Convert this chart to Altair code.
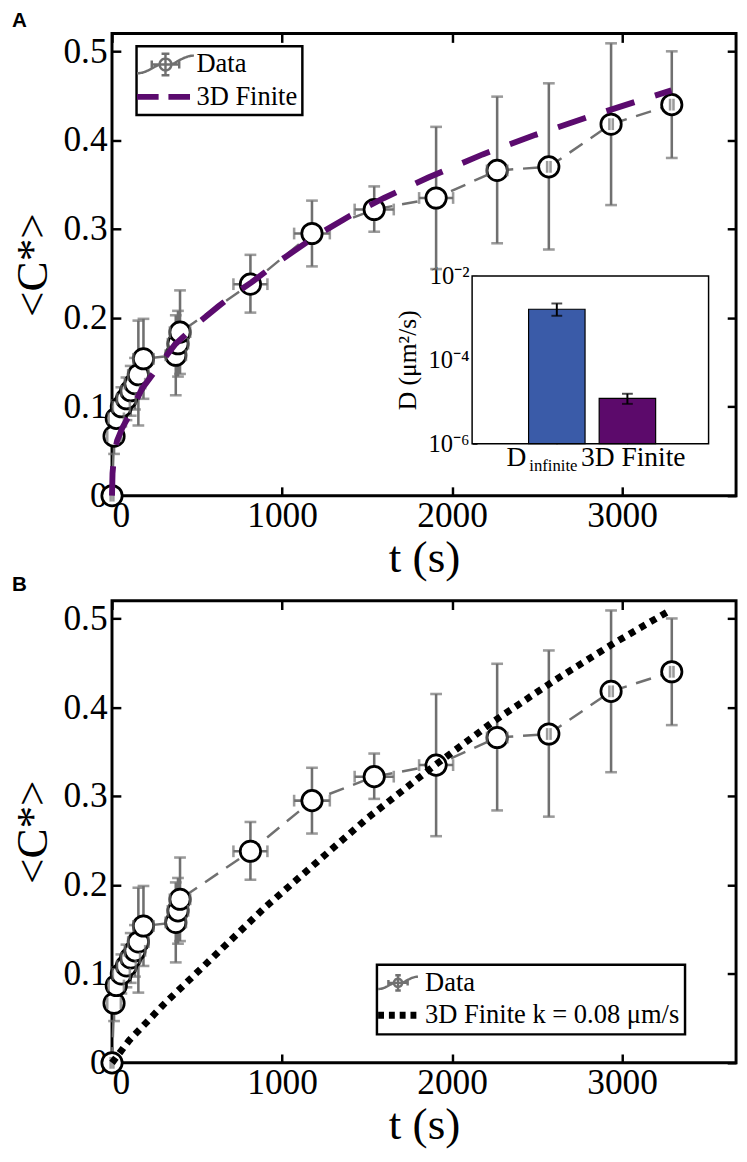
import altair as alt
import pandas as pd

# ---------------- data ----------------
t_data = [0, 12, 25, 55, 85, 110, 135, 155, 185, 375, 388, 400, 814, 1176, 1542, 1906, 2265, 2569, 2935, 3292]
c_data = [0.000, 0.067, 0.087, 0.100, 0.109, 0.118, 0.126, 0.136, 0.154, 0.158, 0.171, 0.184,
          0.238, 0.295, 0.322, 0.335, 0.366, 0.370, 0.418, 0.440]
c_lo = [-0.004, 0.047, 0.067, 0.078, 0.085, 0.090, 0.097, 0.079, 0.109, 0.113, 0.134, 0.137,
        0.206, 0.258, 0.297, 0.255, 0.284, 0.277, 0.327, 0.380]
c_hi = [0.004, 0.087, 0.107, 0.122, 0.133, 0.146, 0.155, 0.197, 0.199, 0.203, 0.208, 0.231,
        0.271, 0.332, 0.348, 0.415, 0.449, 0.464, 0.509, 0.500]
t_err = [8, 40, 45, 50, 55, 55, 60, 60, 60, 60, 60, 60, 100, 105, 115, 100, 60, 10, 10, 10]

fitA_t = [0, 3, 12, 30, 60, 105, 175, 275, 370, 510, 625, 720, 820, 1000, 1205, 1400, 1600,
          1860, 2180, 2490, 2815, 3140, 3290]
fitA_c = [0.0, 0.025, 0.045, 0.062, 0.076, 0.092, 0.120, 0.146, 0.170, 0.195, 0.213, 0.227,
          0.240, 0.266, 0.293, 0.315, 0.335, 0.358, 0.384, 0.406, 0.427, 0.447, 0.456]

fitB_t = [0, 100, 300, 600, 900, 1200, 1500, 1900, 2250, 2600, 2950, 3290]
fitB_c = [0.0, 0.025, 0.065, 0.120, 0.175, 0.225, 0.275, 0.335, 0.385, 0.430, 0.472, 0.510]

inset_names = ["D_infinite", "3D Finite"]
inset_pos = [1, 2]
inset_D = [1.6e-3, 1.2e-5]
inset_lo = [1.12e-3, 8.9e-6]
inset_hi = [2.2e-3, 1.55e-5]
inset_main_label = ["D", "3D Finite"]
inset_sub_label = ["infinite", ""]
inset_colors = ["#3a5ba8", "#5c0a6b"]
inset_xlim = [-0.2, 3.15]
inset_ylim = [1e-6, 1e-2]

x_ticks = [0, 1000, 2000, 3000]
y_ticks = [0, 0.1, 0.2, 0.3, 0.4, 0.5]
inset_decades = [1e-6, 1e-5, 1e-4, 1e-3, 1e-2]
x_lim = [0, 3670]
y_lim = [0, 0.52]

legendA = ["Data", "3D Finite"]
legendB = ["Data", "3D Finite k = 0.08 μm/s"]

# ---------------- styling ----------------
W, H = 636, 471
TK = 9           # inward tick length
FONT = "Liberation Serif"
GRAY = "#707070"
PURPLE = "#5b0b6e"
DATA_PATH = ("M-2.9,0.9C-2,0.9,-1.3,0.3,-0.6,0 M0.6,0C1.3,-0.3,2,-0.9,2.9,-0.9 "
             "M-1.4,0L1.4,0 M-1.4,-0.4L-1.4,0.4 M1.4,-0.4L1.4,0.4 "
             "M0,-1.1L0,1.1 M-0.4,-1.1L0.4,-1.1 M-0.4,1.1L0.4,1.1 "
             "M0.6,0A0.6,0.6,0,1,1,-0.6,0A0.6,0.6,0,1,1,0.6,0")
LINE_PATH = "M-2.9,0L2.9,0"

data_df = pd.DataFrame({"t": t_data, "C": c_data, "lo": c_lo, "hi": c_hi, "terr": t_err})


def xs():
    return alt.Scale(domain=x_lim, nice=False, zero=False)


def ys():
    return alt.Scale(domain=y_lim, nice=False, zero=False)


x_label_axis = alt.Axis(orient="bottom", offset=-TK, values=x_ticks, format="d", ticks=True, tickSize=TK,
                        tickWidth=2.5, tickColor="black", domain=False, grid=False,
                        labelFont=FONT, labelFontSize=36, labelColor="black", labelPadding=3,
                        title="t (s)", titleFont=FONT, titleFontSize=46, titleFontWeight="normal",
                        titleColor="black", titlePadding=3)
y_label_axis = alt.Axis(orient="left", offset=-TK, values=y_ticks,
                        labelExpr="datum.value == 0 ? '0' : format(datum.value, '.1f')",
                        ticks=True, tickSize=TK, tickWidth=2.5, tickColor="black", domain=False, grid=False,
                        labelFont=FONT, labelFontSize=36, labelColor="black", labelPadding=5,
                        title="<C*>", titleFont=FONT, titleFontSize=46, titleFontWeight="normal",
                        titleColor="black", titlePadding=7)
x_top_axis = alt.Axis(orient="top", offset=-TK, values=x_ticks, labels=False, ticks=True, tickSize=TK,
                      tickWidth=2.5, tickColor="black", domain=False, grid=False, title=None, minExtent=0)
y_right_axis = alt.Axis(orient="right", offset=-TK, values=y_ticks, labels=False, ticks=True, tickSize=TK,
                        tickWidth=2.5, tickColor="black", domain=False, grid=False, title=None, minExtent=0)


def legend_layer(names, stroke_rng, dash_rng, width_rng, lx, ly, unit, sym_off, lab_off, row_pad):
    L = alt.Legend(orient="none", legendX=lx, legendY=ly, title=None, labelFont=FONT, labelFontSize=27,
                   labelColor="black", labelLimit=600, symbolSize=(2 * unit) ** 2, strokeColor="black",
                   fillColor="white", padding=5, rowPadding=row_pad, symbolOffset=sym_off,
                   labelOffset=lab_off, symbolFillColor="white")

    def sc(rng):
        return alt.Scale(domain=names, range=rng)

    return alt.Chart(pd.DataFrame({"series": names})).transform_filter("false").mark_point(
        filled=False, fill="white", opacity=1).encode(
        shape=alt.Shape("series:N", scale=sc([DATA_PATH, LINE_PATH]), legend=L),
        stroke=alt.Stroke("series:N", scale=sc(stroke_rng), legend=L),
        strokeDash=alt.StrokeDash("series:N", scale=sc(dash_rng), legend=L),
        strokeWidth=alt.StrokeWidth("series:N", scale=sc(width_rng), legend=L),
    )


def data_layers():
    base = alt.Chart(data_df)
    line = base.mark_line(color=GRAY, strokeWidth=2.5, strokeDash=[16, 10]).encode(
        x=alt.X("t:Q", scale=xs(), axis=x_label_axis),
        y=alt.Y("C:Q", scale=ys(), axis=y_label_axis))
    verr = base.mark_rule(color=GRAY, strokeWidth=2.6).encode(
        x=alt.X("t:Q", scale=xs(), axis=None), y=alt.Y("lo:Q", scale=ys(), axis=None), y2="hi:Q")
    vcaps = base.transform_fold(["lo", "hi"], as_=["k", "v"]).mark_tick(
        orient="horizontal", color=GRAY, size=12, thickness=2.6).encode(
        x=alt.X("t:Q", scale=xs(), axis=None), y=alt.Y("v:Q", scale=ys(), axis=None))
    herr = base.transform_calculate(tlo="datum.t - datum.terr", thi="datum.t + datum.terr").mark_rule(
        color=GRAY, strokeWidth=2.6).encode(
        x=alt.X("tlo:Q", scale=xs(), axis=None), x2="thi:Q", y=alt.Y("C:Q", scale=ys(), axis=None))
    circ = base.mark_circle(size=430, fill="white", stroke="black", strokeWidth=2.8, opacity=1).encode(
        x=alt.X("t:Q", scale=xs(), axis=None), y=alt.Y("C:Q", scale=ys(), axis=None))
    hcaps = base.transform_calculate(tlo="datum.t - datum.terr", thi="datum.t + datum.terr").transform_fold(
        ["tlo", "thi"], as_=["k", "v"]).mark_tick(orient="vertical", color=GRAY, size=12, thickness=2.6).encode(
        x=alt.X("v:Q", scale=xs(), axis=None), y=alt.Y("C:Q", scale=ys(), axis=None))
    return [line, verr, vcaps, herr, circ, hcaps]


def fit_layer(fit_t, fit_c, color, dash, width):
    # same limits as the main axes; carries the inward ticks of the top and right frame edges
    return alt.Chart(pd.DataFrame({"t": fit_t, "C": fit_c})).mark_line(
        color=color, strokeWidth=width, strokeDash=dash).encode(
        x=alt.X("t:Q", scale=xs(), axis=x_top_axis), y=alt.Y("C:Q", scale=ys(), axis=y_right_axis))


# ---------------- inset (panel A) ----------------
IX = [367, 608]   # inset pixel range inside plot A
IY = [418, 247]
ITK = 5


def ixs():
    return alt.Scale(domain=inset_xlim, range=IX, nice=False, zero=False)


def iys():
    return alt.Scale(type="log", domain=inset_ylim, range=IY, nice=False)


inset_df = pd.DataFrame({"name": inset_names, "pos": inset_pos, "D": inset_D, "lo": inset_lo, "hi": inset_hi,
                         "main": inset_main_label, "sub": inset_sub_label})
frame_df = pd.DataFrame({"x0": [inset_xlim[0]], "x1": [inset_xlim[1]], "y0": [inset_ylim[0]], "y1": [inset_ylim[1]]})

inset_y_axis = alt.Axis(orient="left", offset=-IX[0] - ITK, values=inset_decades,
                        labelExpr=("datum.value < 2e-6 ? '10⁻⁶' : (datum.value > 5e-5 && datum.value < 2e-4) ? "
                                   "'10⁻⁴' : datum.value > 5e-3 ? '10⁻²' : ''"),
                        ticks=True, tickSize=ITK, tickWidth=1.2, tickColor="black", domain=False, grid=False,
                        labelFont=FONT, labelFontSize=25, labelColor="black", labelPadding=3,
                        title="D (μm²/s)", titleFont=FONT, titleFontSize=26, titleFontWeight="normal",
                        titleColor="black", titlePadding=8)
inset_x_axis = alt.Axis(orient="bottom", offset=IY[0] - H - ITK, values=inset_pos, labels=False, ticks=True,
                        tickSize=ITK, tickWidth=1.2, tickColor="black", domain=False, grid=False, title=None)

frame = alt.Chart(frame_df).mark_rect(fill="white", stroke="black", strokeWidth=1.5).encode(
    x=alt.X("x0:Q", scale=ixs(), axis=inset_x_axis), x2="x1:Q",
    y=alt.Y("y0:Q", scale=iys(), axis=inset_y_axis), y2="y1:Q")
bars = alt.Chart(inset_df).transform_calculate(b0="datum.pos - 0.4", b1="datum.pos + 0.4").mark_rect(
    stroke="black", strokeWidth=1.2).encode(
    x=alt.X("b0:Q", scale=ixs(), axis=None), x2="b1:Q",
    y=alt.Y("D:Q", scale=iys(), axis=None), y2=alt.datum(inset_ylim[0]),
    color=alt.Color("name:N", scale=alt.Scale(domain=inset_names, range=inset_colors), legend=None))
ierr = alt.Chart(inset_df).mark_rule(color="black", strokeWidth=2).encode(
    x=alt.X("pos:Q", scale=ixs(), axis=None), y=alt.Y("lo:Q", scale=iys(), axis=None), y2="hi:Q")
icaps = alt.Chart(inset_df).transform_fold(["lo", "hi"], as_=["k", "v"]).mark_tick(
    orient="horizontal", color="black", size=11, thickness=2).encode(
    x=alt.X("pos:Q", scale=ixs(), axis=None), y=alt.Y("v:Q", scale=iys(), axis=None))


def inset_text(cond, field, align, dx, dy, size):
    return alt.Chart(inset_df).transform_filter(cond).mark_text(
        align=align, baseline="top", dx=dx, dy=dy, font=FONT, fontSize=size, color="black").encode(
        x=alt.X("pos:Q", scale=ixs(), axis=None),
        y=alt.YDatum(inset_ylim[0], scale=iys(), axis=None),
        text=field + ":N")


inset_layers = [frame, bars, ierr, icaps,
                inset_text("datum.pos == 1", "main", "right", -31, 1, 28),
                inset_text("datum.pos == 1", "sub", "left", -28, 15, 17),
                inset_text("datum.pos == 2", "main", "center", 6, 1, 28)]

# ---------------- panels ----------------
legA = legend_layer(legendA, [GRAY, PURPLE], [[1, 0], [22, 10]], [2.5, 6], 25, 13, 10, 11, 18, 2)
legB = legend_layer(legendB, [GRAY, "black"], [[1, 0], [6, 5]], [2.5, 7], 270, 371, 7, 3, 14, 5)


def title(letter):
    return alt.TitleParams(text=letter, anchor="start", font="Liberation Sans", fontSize=21, fontWeight="bold",
                           color="black", offset=1, dx=2)


panelA = alt.layer(*data_layers(), legA, *inset_layers,
                   fit_layer(fitA_t, fitA_c, PURPLE, [30, 22], 6)).resolve_scale(
    x="independent", y="independent").properties(width=W, height=H, title=title("A"))
panelB = alt.layer(*data_layers(), legB, fit_layer(fitB_t, fitB_c, "black", [6.5, 6], 7)).resolve_scale(
    x="independent", y="independent").properties(width=W, height=H, title=title("B"))

chart = alt.vconcat(panelA, panelB, spacing=-10).resolve_scale(
    shape="independent", stroke="independent", strokeDash="independent", strokeWidth="independent",
    color="independent").properties(
    padding={"top": -10, "left": 0, "right": 0, "bottom": 0}, background="white").configure_view(
    stroke="black", strokeWidth=3).configure_legend(strokeWidth=2.5).configure_axis(
    labelFont=FONT, titleFont=FONT, labelColor="black", titleColor="black")

chart.save("out.html", embed_options={"renderer": "svg", "actions": False})
